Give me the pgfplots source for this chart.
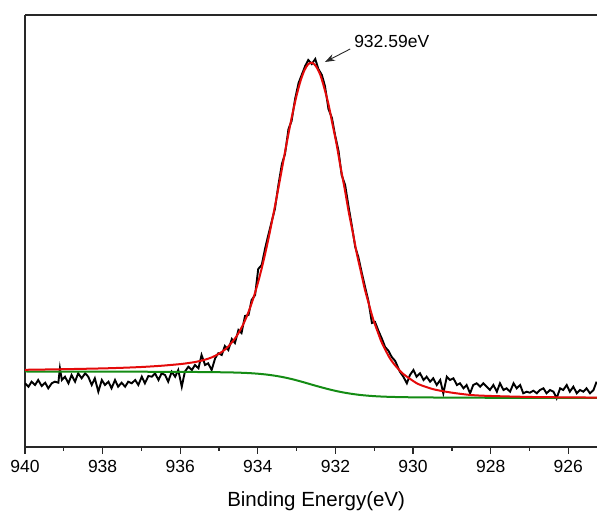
\documentclass[border=0pt]{standalone}
\usepackage{pgfplots}
\pgfplotsset{compat=1.18}
\usepackage{pgfplotstable}
\usepackage{fontspec}
\setmainfont{Liberation Sans}
\usetikzlibrary{arrows.meta}
\definecolor{fitred}{RGB}{228,10,10}
\definecolor{bggreen}{RGB}{20,140,20}
\definecolor{axgray}{RGB}{40,40,40}

\pgfplotstableread{
x y
940.00 63.7
939.91 60.3
939.83 65.3
939.74 62.0
939.66 67.0
939.57 61.0
939.48 64.3
939.40 58.7
939.31 63.7
939.23 65.3
939.14 64.3
939.10 78.7
939.05 67.0
938.97 70.3
938.88 63.7
938.80 72.0
938.71 65.3
938.63 73.7
938.54 68.7
938.45 73.7
938.37 70.3
938.28 62.0
938.20 68.7
938.11 55.3
938.02 67.0
937.94 62.0
937.85 65.3
937.77 58.7
937.68 67.0
937.60 60.3
937.51 64.3
937.42 60.3
937.34 65.3
937.25 63.7
937.16 67.0
937.08 62.0
936.99 70.3
936.91 63.7
936.82 71.0
936.73 70.3
936.65 73.7
936.56 67.0
936.48 73.7
936.39 72.0
936.31 65.3
936.22 75.3
936.13 70.3
936.05 77.0
935.96 60.3
935.88 75.3
935.79 80.3
935.70 77.0
935.62 82.0
935.53 78.7
935.45 92.0
935.36 82.0
935.28 83.7
935.19 77.0
935.10 88.7
935.02 93.7
934.93 92
934.85 101
934.76 97
934.67 108
934.59 104
934.50 117
934.42 114
934.33 131
934.24 132
934.16 147
934.07 152
933.99 178
933.90 182
933.81 199
933.73 212
933.64 226
933.56 238
933.47 262
933.38 283
933.30 293
933.21 318
933.13 326
933.04 348
932.95 364
932.87 372
932.78 381
932.70 387
932.61 383
932.52 388
932.44 378
932.35 372
932.27 361
932.18 338
932.09 329
932.01 312
931.92 296
931.84 272
931.75 262
931.66 240
931.58 222
931.49 200
931.41 190
931.32 174
931.23 159
931.15 146
931.06 124
930.98 125
930.89 116
930.80 108
930.72 100
930.63 96
930.55 90
930.46 86
930.34 75.3
930.25 70.3
930.16 63.7
930.08 72.0
929.99 77.0
929.91 70.3
929.82 73.7
929.73 67.0
929.65 70.3
929.56 65.3
929.48 68.7
929.39 62.0
929.30 67.0
929.22 53.7
929.13 70.3
929.05 67.0
928.96 68.7
928.87 62.0
928.79 63.7
928.70 58.7
928.62 62.0
928.53 53.7
928.45 62.0
928.36 63.7
928.27 60.3
928.19 63.7
928.10 60.3
928.02 57.0
927.93 62.0
927.84 55.3
927.76 63.7
927.67 57.0
927.59 58.7
927.50 55.3
927.41 63.7
927.33 58.7
927.24 62.0
927.16 53.7
927.07 55.3
926.99 54.3
926.90 56.3
926.81 53.7
926.73 57.0
926.64 58.7
926.56 53.7
926.47 57.0
926.38 55.3
926.30 48.7
926.21 58.7
926.13 57.0
926.04 62.0
925.96 55.3
925.87 60.3
925.78 53.7
925.70 57.0
925.61 55.3
925.53 58.7
925.44 53.7
925.35 57.0
925.27 65.3
}\rawdata

\pgfplotstableread{
x y
940.0 77.2
939.0 77.8
938.0 78.6
937.5 79.2
937.0 80.0
936.5 81.2
936.0 82.9
935.8 83.9
935.6 85.1
935.4 86.9
935.2 89.4
935.0 93.3
934.8 99.0
934.6 107.9
934.5 113.8
934.4 120.8
934.3 129.2
934.2 139.2
934.1 150.7
934.0 163.8
933.9 178.7
933.8 195.2
933.7 213.2
933.6 232.5
933.5 252.8
933.4 273.7
933.3 294.8
933.2 315.3
933.1 334.5
933.0 351.7
932.9 366.0
932.8 376.6
932.7 382.9
932.6 384.3
932.50 380.6
932.39 372.1
932.29 359.3
932.18 342.8
932.08 323.6
931.97 302.6
931.87 280.3
931.76 257.8
931.66 235.5
931.55 214.0
931.45 193.5
931.34 174.6
931.24 157.3
931.13 141.7
931.03 128.0
930.92 116.1
930.82 105.7
930.71 96.9
930.61 89.6
930.50 83.4
930.29 74.3
930.08 68.2
929.87 63.0
929.66 60.0
929.45 57.5
929.03 54.5
928.51 52.0
927.98 51.0
926.93 50.0
925.88 49.6
925.20 49.4
}\fitdata

\pgfplotstableread{
x y
940.0 75.50
939.0 75.45
938.0 75.37
937.0 75.27
936.0 75.11
935.6 75.01
935.2 74.87
934.8 74.65
934.6 74.47
934.4 74.21
934.2 73.84
934.0 73.29
933.8 72.55
933.6 71.53
933.4 70.22
933.2 68.61
933.0 66.68
932.8 64.53
932.6 62.25
932.39 59.97
932.18 57.82
931.97 55.89
931.76 54.28
931.55 52.97
931.34 51.95
931.13 51.21
930.92 50.66
930.71 50.29
930.50 50.03
930.08 49.72
929.45 49.49
928.51 49.30
927.98 49.23
926.93 49.13
925.88 49.05
925.20 49.00
}\bgdata

\begin{document}
\begin{tikzpicture}[x=1pt,y=1pt]
\useasboundingbox (-25,-69) rectangle (572,447);
\begin{axis}[
  at={(0,0)}, anchor=south west,
  scale only axis, width=572pt, height=432pt,
  x dir=reverse, xmin=925.26, xmax=940, ymin=0, ymax=432,
  axis x line*=box, axis y line*=left,
  axis line style={line width=1.4pt, color=axgray},
  xtick={926,928,...,940}, minor x tick num=1,
  xtick pos=bottom, tick align=outside,
  major tick length=7pt, minor tick length=4pt,
  every tick/.style={line width=1.3pt, color=axgray},
  ytick=\empty,
  /pgf/number format/assume math mode=true,
  /pgf/number format/1000 sep={},
  xticklabel style={font=\fontsize{17.5}{20}\selectfont, anchor=base, yshift=-19pt},
  xlabel={Binding Energy(eV)},
  xlabel style={font=\fontsize{20.5}{24}\selectfont, at={(axis description cs:0.509,-0.1366)}, anchor=base},
]
\addplot[black, line width=1.9pt] table[x=x,y=y] {\rawdata};
\addplot[bggreen, line width=2pt, smooth] table[x=x,y=y] {\bgdata};
\addplot[fitred, line width=2pt, smooth] table[x=x,y=y] {\fitdata};
\draw[line width=0.9pt, axgray, -{Stealth[length=10pt,width=7pt]}] (axis cs:931.62,398) -- (axis cs:932.27,385);
\node[anchor=base west, inner sep=0pt, font=\fontsize{17.5}{20}\selectfont] at (axis cs:931.52,399) {932.59eV};
\end{axis}
\end{tikzpicture}
\end{document}
